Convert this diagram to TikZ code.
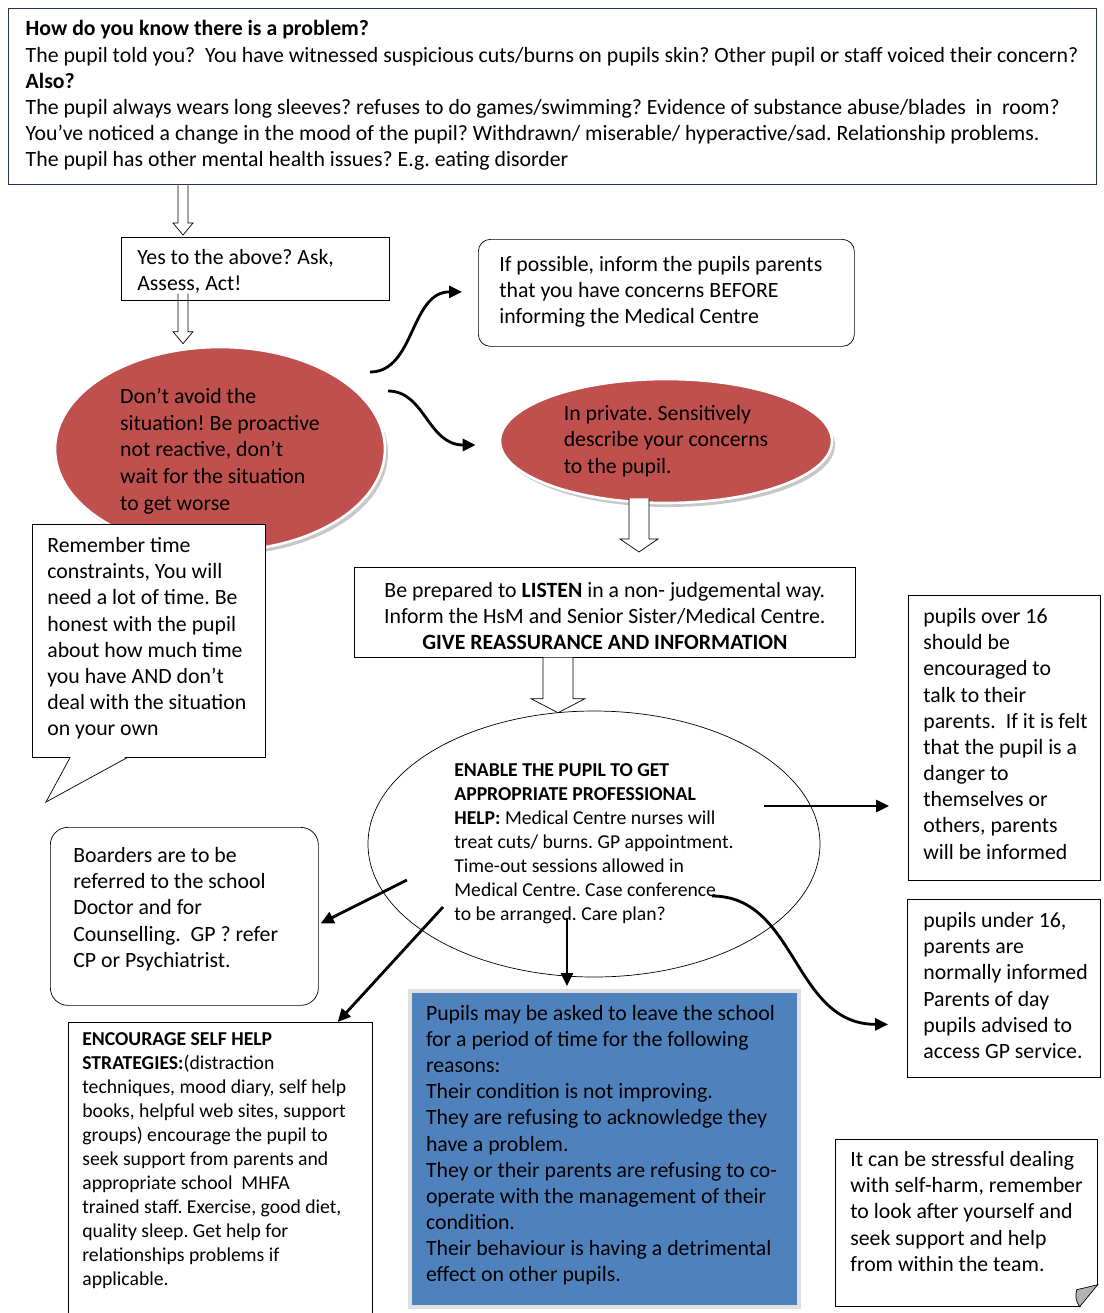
\documentclass[tikz,border=0pt]{standalone}
\usepackage{fontspec}
\setmainfont{Carlito}
\usetikzlibrary{calc,arrows.meta,shapes.geometric,shadows}

\definecolor{framenavy}{RGB}{38,52,84}
\definecolor{alertred}{RGB}{192,80,77}
\definecolor{leaveblue}{RGB}{79,129,189}
\frenchspacing

\newlength\pixel
\setlength\pixel{0.02cm}

% width, height, left pad, top pad, lines (all in pixels)
\newcommand{\boxtext}[5]{\parbox[c][#2\pixel][t]{#1\pixel}{\raggedright\leftskip=#3\pixel\relax\vspace*{#4\pixel}#5}}

% hollow block arrow: start, tip, half shaft, half head, head length
\newcommand{\hollowarrow}[6][fill=white]{%
	\draw[#1] ($(#2)+(-#4,0)$) -- ($(#3)+(-#4,-#6)$) -- ($(#3)+(-#5,-#6)$) -- (#3)
		-- ($(#3)+(#5,-#6)$) -- ($(#3)+(#4,-#6)$) -- ($(#2)+(#4,0)$);}

\tikzset{
	textbox/.style={draw, anchor=north west, inner sep=0pt, font=\fontsize{12.4}{14.9}\selectfont},
	smalltext/.style={font=\fontsize{11.2}{13.7}\selectfont},
	redcloud/.style={ellipse, fill=alertred, draw=white, line width=1.5pt, inner sep=0pt, align=left,
		drop shadow={shadow xshift=0.06cm, shadow yshift=-0.08cm, fill=black!22, opacity=1},
		font=\fontsize{12.4}{15.2}\selectfont},
	arr/.style={line width=1.6pt, -{Triangle[length=0.26cm,width=0.24cm]}},
}

\begin{document}
\begin{tikzpicture}[x=0.02cm, y=-0.02cm]
	\useasboundingbox (0,0) rectangle (1104,1313);

	\node[textbox, draw=framenavy, line width=0.8pt] (top) at (8,8) {\boxtext{1088}{176}{17}{12}{%
		\textbf{How do you know there is a problem?}\\
		The pupil told you?\ \ You have witnessed suspicious cuts/burns on pupils skin? Other pupil or staff voiced their concern?\\
		\textbf{Also?}\\
		The pupil always wears long sleeves? refuses to do games/swimming? Evidence of substance abuse/blades\ \ in\ \ room?\\
		You've noticed a change in the mood of the pupil? Withdrawn/ miserable/ hyperactive/sad. Relationship problems.\\
		The pupil has other mental health issues? E.g. eating disorder}};

	\node[textbox] (yes) at (121,237) {\boxtext{268}{63}{16}{12}{Yes to the above? Ask,\\Assess, Act!}};
	\node[textbox, rounded corners=0.24cm] (inform) at (478,239) {\boxtext{376}{107}{21}{17}{%
		If possible, inform the pupils parents\\that you have concerns BEFORE\\informing the Medical Centre}};

	\node[redcloud, minimum width=330\pixel, minimum height=204\pixel] (dontavoid) at (220,449)
		{\\[-7\pixel]Don't avoid the\\situation! Be proactive\\not reactive, don't\\wait for the situation\\to get worse};
	\node[redcloud, minimum width=332\pixel, minimum height=124\pixel] (private) at (666,441)
		{In private. Sensitively\\describe your concerns\\to the pupil.};

	\node[textbox, fill=white] (remember) at (32,524) {\boxtext{233}{233}{15}{13}{%
		Remember time\\constraints, You will\\need a lot of time. Be\\honest with the pupil\\about how much time\\you have AND don't\\deal with the situation\\on your own}};
	\coordinate (tail) at (46,802);
	\fill[white] ($(remember.south west)+(39,-1)$) -- (tail) -- ($(remember.south west)+(94,-1)$) -- cycle;
	\draw ($(remember.south west)+(38,0)$) -- (tail) -- ($(remember.south west)+(95,0)$);

	\node[textbox] (listen) at (354,567) {\boxtext{501}{90}{0}{15}{\centering
		Be prepared to \textbf{LISTEN} in a non- judgemental way.\\Inform the HsM and Senior Sister/Medical Centre.\\\textbf{GIVE REASSURANCE AND INFORMATION}}};

	\node[ellipse, draw, thin, inner sep=0pt, minimum width=452\pixel, minimum height=266\pixel, align=left, smalltext] (enable) at (594,844)
		{\textbf{ENABLE THE PUPIL TO GET}\\\textbf{APPROPRIATE PROFESSIONAL}\\\textbf{HELP:} Medical Centre nurses will\\treat cuts/ burns. GP appointment.\\Time-out sessions allowed in\\Medical Centre. Case conference\\to be arranged. Care plan?};

	\node[textbox] (over16) at (908,595) {\boxtext{192}{285}{15}{13}{%
		pupils over 16\\should be\\encouraged to\\talk to their\\parents.\ \ If it is felt\\that the pupil is a\\danger to\\themselves or\\others, parents\\will be informed}};
	\node[textbox] (under16) at (907,899) {\boxtext{193}{178}{16}{13}{%
		pupils under 16,\\parents are\\normally informed\\Parents of day\\pupils advised to\\access GP service.}};

	\node[textbox, rounded corners=0.35cm] (boarders) at (50,827) {\boxtext{268}{178}{23}{20}{%
		Boarders are to be\\referred to the school\\Doctor and for\\Counselling.\ \ GP ? refer\\CP or Psychiatrist.}};
	\node[textbox, smalltext] (selfhelp) at (68,1022) {\boxtext{304}{310}{14}{10}{%
		\textbf{ENCOURAGE SELF HELP}\\\textbf{STRATEGIES:}(distraction\\techniques, mood diary, self help\\books, helpful web sites, support\\groups) encourage the pupil to\\seek support from parents and\\appropriate school\ \ MHFA\\trained staff. Exercise, good diet,\\quality sleep. Get help for\\relationships problems if\\applicable.}};
	\node[textbox, fill=leaveblue, draw=black!12, line width=0.08cm] (leave) at (408,989) {\boxtext{389}{316}{16}{14}{%
		Pupils may be asked to leave the school\\for a period of time for the following\\reasons:\\Their condition is not improving.\\They are refusing to acknowledge they\\have a problem.\\They or their parents are refusing to co-\\operate with the management of their\\condition.\\Their behaviour is having a detrimental\\effect on other pupils.}};

	\node[textbox] (stress) at (835,1139) {\boxtext{262}{167}{15}{12}{%
		It can be stressful dealing\\with self-harm, remember\\to look after yourself and\\seek support and help\\from within the team.}};
	\fill[white] ($(stress.south east)+(-18,1)$) -- ($(stress.south east)+(1,1)$) -- ($(stress.south east)+(1,-23)$) -- cycle;
	\draw[fill=black!30] ($(stress.south east)+(-18,0)$) to[bend left=25] ($(stress.south east)+(-21,-17)$)
		-- ($(stress.south east)+(0,-22)$) -- cycle;

	% hollow arrows
	\coordinate (h1) at ($(yes.north west)+(62,-2)$);
	\coordinate (h1s) at (top.south -| h1);
	\hollowarrow{h1s}{h1}{5}{10}{12}
	\coordinate (h2) at ($(dontavoid.north)+(-37,-2)$);
	\coordinate (h2s) at ($(h2 |- yes.south)+(0,-7)$);
	\hollowarrow[fill=none]{h2s}{h2}{5}{10}{12}
	\coordinate (h3) at ($(listen.north west)+(285,-15)$);
	\coordinate (h3s) at ($(h3 |- private.south)+(0,-6)$);
	\hollowarrow{h3s}{h3}{10}{19}{13}
	\coordinate (h4) at ($(listen.south west)+(204,55)$);
	\coordinate (h4s) at (h4 |- listen.south);
	\hollowarrow{h4s}{h4}{15}{27}{14}

	% curly and straight arrows
	\draw[arr] ($(dontavoid.center)+(150,-77)$) .. controls +(45,0) and +(-52,0) .. ($(inform.west)+(-16,-1)$);
	\draw[arr] ($(dontavoid.center)+(168,-58)$) .. controls +(37,0) and +(-48,0) .. ($(private.west)+(-23,4)$);

	\coordinate (e1) at ($(enable.center)+(170,-38)$);
	\draw[arr] (e1) -- ($(e1 -| over16.west)+(-19,0)$);
	\draw[arr] ($(enable.center)+(118,52)$) .. controls +(85,0) and +(-95,0) .. ($(under16.west)+(-19,36)$);
	\draw[arr] ($(enable.center)+(-187,36)$) -- ($(boarders.east)+(2,7)$);
	\draw[arr] ($(enable.center)+(-151,63)$) -- ($(selfhelp.north east)+(-35,0)$);
	\coordinate (e2) at ($(enable.center)+(-27,74)$);
	\draw[arr] (e2) -- ($(e2 |- leave.north)+(0,-3)$);
\end{tikzpicture}
\end{document}
